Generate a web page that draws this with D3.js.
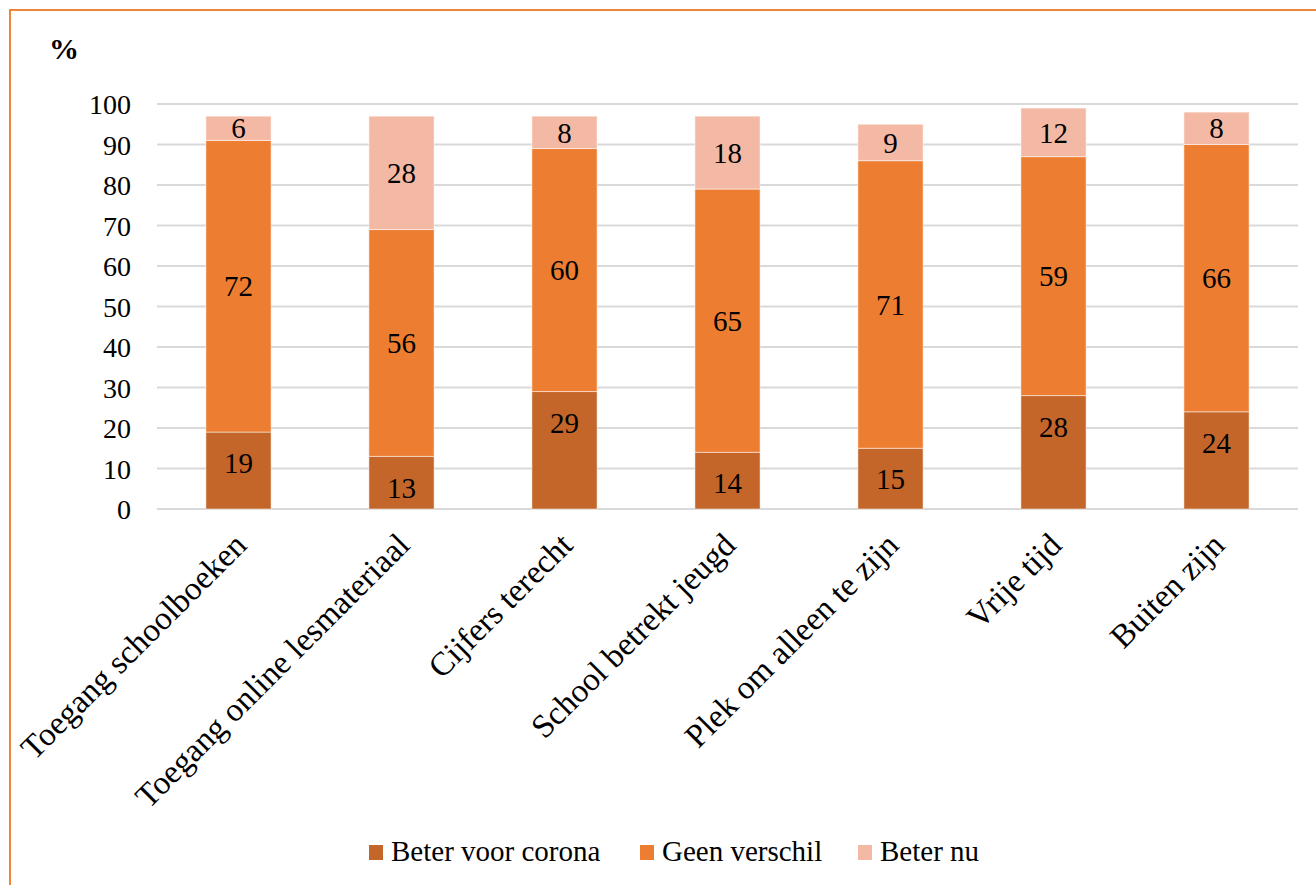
<!DOCTYPE html>
<html><head><meta charset="utf-8">
<script src="https://cdn.jsdelivr.net/npm/d3@7"></script>
<style>body{margin:0;background:#fff}svg{display:block}</style>
</head><body>
<svg id="c" width="1316" height="885"></svg>
<script>
const categories = ["Toegang schoolboeken","Toegang online lesmateriaal","Cijfers terecht","School betrekt jeugd","Plek om alleen te zijn","Vrije tijd","Buiten zijn"];
const beterVoorCorona = [19,13,29,14,15,28,24];
const geenVerschil = [72,56,60,65,71,59,66];
const beterNu = [6,28,8,18,9,12,8];
const seriesNames = ["Beter voor corona","Geen verschil","Beter nu"];
const yTicks = [0,10,20,30,40,50,60,70,80,90,100];
const colors = ["#C4662A","#ED7D31","#F4B9A5"];

const svg = d3.select("#c");
const font = "'Liberation Serif','Times New Roman',serif";
svg.append("rect").attr("x",10).attr("y",10).attr("width",1316).attr("height",885)
  .attr("fill","#fff").attr("stroke","#F08539").attr("stroke-width",2);

const x = d3.scaleBand().domain(categories).range([157,1298]).paddingInner(0.6).paddingOuter(0.3);
const y = d3.scaleLinear().domain([0,100]).range([509,104]);

const data = categories.map((c,i)=>({cat:c, "Beter voor corona":beterVoorCorona[i], "Geen verschil":geenVerschil[i], "Beter nu":beterNu[i]}));
const stacked = d3.stack().keys(seriesNames)(data);

// grid
svg.append("g").selectAll("line").data(yTicks).join("line")
  .attr("x1",157).attr("x2",1298).attr("y1",d=>y(d)).attr("y2",d=>y(d))
  .attr("stroke","#D9D9D9").attr("stroke-width",2);

// y axis labels
const yAxis = d3.axisLeft(y).tickValues(yTicks).tickSize(0).tickPadding(0);
const ya = svg.append("g").attr("transform","translate(131,0)").call(yAxis);
ya.select(".domain").remove();
ya.selectAll("text").attr("font-family",font).attr("font-size",28).attr("fill","#000").attr("dy","0.35em");

// bars
stacked.forEach((s,si)=>{
  const g = svg.append("g");
  g.selectAll("rect").data(s).join("rect")
    .attr("x",d=>x(d.data.cat)).attr("width",x.bandwidth())
    .attr("y",d=>y(d[1])).attr("height",d=>y(d[0])-y(d[1]))
    .attr("fill",colors[si]).attr("stroke","#fff").attr("stroke-opacity",0.5).attr("stroke-width",1);
  g.selectAll("text").data(s).join("text")
    .attr("x",d=>x(d.data.cat)+x.bandwidth()/2)
    .attr("y",d=> si===0 ? y(d[1])+31 : (y(d[0])+y(d[1]))/2)
    .attr("dy","0.35em").attr("text-anchor","middle")
    .attr("font-family",font).attr("font-size",29).attr("fill","#000")
    .text(d=>d[1]-d[0]);
});

// x labels
const xAxis = d3.axisBottom(x).tickSize(0).tickPadding(0);
const xa = svg.append("g").attr("transform","translate(0,509)").call(xAxis);
xa.select(".domain").remove();
xa.selectAll("text").attr("font-family",font).attr("font-size",33).attr("fill","#000")
  .attr("text-anchor","end").attr("dy",0).attr("y",0)
  .attr("transform","translate(10,38) rotate(-45)");

// % title
svg.append("text").attr("x",49).attr("y",59).attr("font-family",font).attr("font-size",30)
  .attr("font-weight","bold").text("%");

// legend
const legX = [369,640,858];
const lg = svg.append("g");
seriesNames.forEach((n,i)=>{
  lg.append("rect").attr("x",legX[i]).attr("y",845).attr("width",14).attr("height",15).attr("fill",colors[i]);
  lg.append("text").attr("x",legX[i]+22).attr("y",861).attr("font-family",font).attr("font-size",29).text(n);
});
</script>
</body></html>
